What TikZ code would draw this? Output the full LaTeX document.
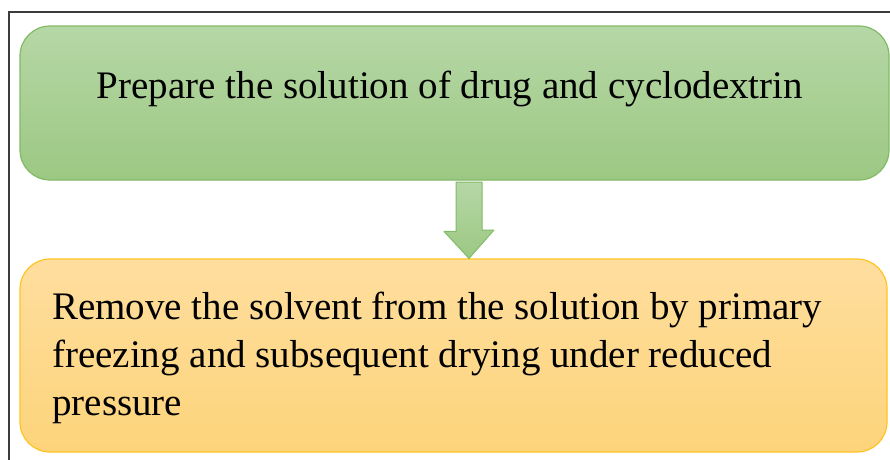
\documentclass[tikz,border=0pt]{standalone}
\usepackage{fontspec}
\setmainfont{Liberation Serif}
\usetikzlibrary{calc}
\definecolor{greentop}{HTML}{B6D7A6}
\definecolor{greenbot}{HTML}{9CC883}
\definecolor{greenline}{HTML}{82BA67}
\definecolor{orangetop}{HTML}{FFDE9E}
\definecolor{orangebot}{HTML}{FDD47B}
\definecolor{orangeline}{HTML}{FFC423}
\definecolor{frameline}{HTML}{3C3C3C}
\tikzset{
  x=1pt, y=-1pt,
  stepbox/.style={draw, line width=1.2pt, rounded corners=30pt, inner sep=0pt},
  greenbox/.style={stepbox, draw=greenline, top color=greentop, bottom color=greenbot},
  orangebox/.style={stepbox, draw=orangeline, top color=orangetop, bottom color=orangebot},
  flowarrow/.style={draw=greenline, line width=1pt, line join=round, top color=greentop, bottom color=greenbot},
  steptext/.style={inner sep=0pt, font=\fontsize{39}{48}\selectfont, text=black}
}
\begin{document}
\begin{tikzpicture}
\useasboundingbox (0,0) rectangle (890,459);
\fill[white] (0,0) rectangle (890,459);
% outer frame, open on the right and at the bottom
\draw[frameline, line width=1.3pt] (9,470) -- (9,12) -- (900,12);
% first step
\node[greenbox, minimum width=869pt, minimum height=154pt] (prep) at (454.5,103) {};
\node[steptext, anchor=base] (preptext) at (450,98) {Prepare the solution of drug and cyclodextrin};
% second step
\node[orangebox, minimum width=867pt, minimum height=193pt] (remove) at (453.5,355.5) {};
\node[steptext, anchor=base west, align=left] (removetext) at (52,415)
  {Remove the solvent from the solution by primary\\freezing and subsequent drying under reduced\\pressure};
% block arrow between the steps
\coordinate (arrowtop) at (469,182);
\path[flowarrow] (arrowtop) ++(-13,0) -- ++(26,0) -- ++(0,48) -- ++(12,0)
  -- (arrowtop |- remove.north) -- ++(-25,-27) -- ++(12,0) -- cycle;
\end{tikzpicture}
\end{document}
